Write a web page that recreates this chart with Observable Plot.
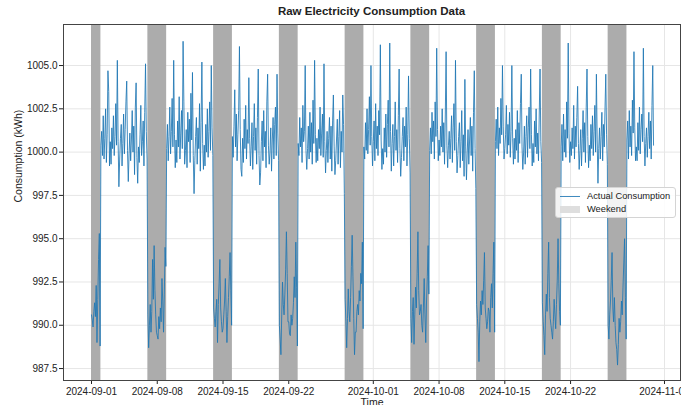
<!DOCTYPE html>
<html>
<head>
<meta charset="utf-8">
<script src="https://cdn.jsdelivr.net/npm/d3@7"></script>
<script src="https://cdn.jsdelivr.net/npm/@observablehq/plot@0.6"></script>
<style>
  html, body { margin: 0; padding: 0; background: #fff; }
  #wrap { position: relative; width: 681px; height: 405px; font-family: "Liberation Sans", Arial, sans-serif; color: #222; overflow: hidden; }
  #title { position: absolute; left: 63px; width: 617px; top: 4px; text-align: center; font-weight: bold; font-size: 11.5px; line-height: 14px; }
  #chart { position: absolute; left: 0; top: 21px; }
  #legend { position: absolute; left: 555px; top: 187px; width: 119px; height: 29px; border: 1px solid #d4d4d4; border-radius: 3px; background: rgba(255,255,255,0.85); font-size: 9.3px; }
  .item { position: absolute; left: 31px; line-height: 12px; white-space: nowrap; }
  .sw-line { position: absolute; left: 4px; width: 20px; height: 0; border-top: 1.2px solid #1f77b4; opacity: 0.85; }
  .sw-rect { position: absolute; left: 4px; width: 20px; height: 7px; background: #dedede; }
</style>
</head>
<body>
<div id="wrap">
  <div id="title">Raw Electricity Consumption Data</div>
  <div id="chart"></div>
  <div id="legend">
    <div class="sw-line" style="top:8px"></div>
    <div class="item" style="top:2px">Actual Consumption</div>
    <div class="sw-rect" style="top:18px"></div>
    <div class="item" style="top:15px">Weekend</div>
  </div>
</div>
<script>
// Two-hourly readings (00h,02h,...,22h) for each day from 2024-09-01 onward
const startDay = "2024-09-01";
const dailyValues = [
  [990.6, 990.3, 989.9, 990.8, 991.3, 990.5, 992.3, 989.0, 991.5, 993.8, 995.3, 988.8], // 09-01 Sun
  [1000.4, 1001.2, 999.8, 1002.1, 999.6, 1000.8, 1002.5, 999.4, 1001.0, 1004.7, 1003.5, 999.2],
  [1000.6, 999.3, 1001.4, 1000.2, 1002.1, 999.8, 1000.9, 1002.8, 1000.4, 1005.3, 1000.6, 998.0],
  [999.6, 1000.8, 1001.6, 999.2, 1000.5, 1002.2, 999.9, 1001.3, 1002.9, 1004.1, 1000.1, 998.3],
  [999.9, 1001.1, 999.5, 1000.7, 1002.4, 1000.0, 1001.5, 998.7, 1002.6, 1004.0, 999.7, 998.2],
  [1000.3, 999.4, 1001.0, 1002.7, 999.8, 1000.6, 1001.8, 999.2, 1002.3, 1005.1, 1001.2, 999.6],
  [990.6, 988.7, 990.0, 991.2, 989.6, 990.8, 993.8, 991.5, 994.6, 992.0, 990.6, 989.6], // 09-07 Sat
  [989.4, 989.2, 990.5, 989.8, 991.0, 990.2, 992.7, 991.4, 989.6, 991.8, 994.5, 993.4],
  [1000.2, 1001.6, 999.5, 1000.9, 1002.6, 999.9, 1001.2, 1003.1, 1000.3, 1005.3, 1001.0, 999.1],
  [1000.7, 999.4, 1001.8, 1000.3, 1003.2, 999.6, 1001.1, 1002.4, 1000.2, 1006.4, 1002.9, 999.3],
  [1000.1, 1001.3, 999.1, 1002.3, 1000.6, 1001.9, 999.4, 1003.4, 1000.7, 1004.6, 999.8, 997.6],
  [999.5, 1000.9, 1002.0, 999.3, 1001.4, 1000.2, 1002.8, 998.9, 1001.7, 1005.2, 1000.5, 999.0],
  [1000.4, 999.2, 1001.6, 1000.0, 1002.5, 999.7, 1001.2, 1002.9, 1000.1, 1005.0, 1001.4, 999.8],
  [991.0, 990.4, 989.9, 990.8, 991.5, 989.0, 991.2, 992.4, 993.8, 991.0, 990.2, 989.6], // 09-14 Sat
  [989.8, 990.6, 991.4, 992.7, 990.8, 989.0, 990.5, 991.6, 992.8, 994.2, 992.0, 990.0],
  [1000.9, 999.7, 1001.5, 1003.6, 1000.3, 1002.2, 999.5, 1001.0, 1002.4, 1006.1, 1001.3, 999.0],
  [998.6, 1000.8, 999.4, 1001.9, 1000.2, 1002.7, 999.6, 1001.3, 1000.5, 1004.3, 1000.8, 999.2],
  [1000.3, 1001.7, 999.0, 1000.9, 1002.8, 1000.1, 1001.4, 999.3, 1002.0, 1004.8, 999.8, 998.1],
  [998.8, 1000.6, 1001.8, 999.5, 1002.4, 1000.3, 1001.2, 999.1, 1002.9, 1004.5, 1000.4, 999.3],
  [1000.0, 1001.4, 998.9, 1000.7, 1002.0, 999.6, 1001.6, 1002.6, 999.8, 1004.5, 1001.1, 999.5],
  [990.0, 989.2, 988.3, 990.6, 992.5, 991.2, 990.6, 991.8, 993.2, 995.4, 993.0, 990.2], // 09-21 Sat
  [990.2, 989.5, 989.4, 990.6, 990.0, 990.4, 991.3, 992.8, 991.6, 994.8, 992.2, 988.8],
  [1000.5, 999.8, 1002.0, 1000.3, 1001.4, 999.4, 1002.7, 1000.6, 1001.2, 1005.0, 1000.1, 999.0],
  [1000.2, 1001.5, 999.6, 1002.3, 1000.0, 1001.7, 999.3, 1003.0, 1000.5, 1005.3, 1001.0, 999.4],
  [1000.8, 999.5, 1001.3, 1000.2, 1002.6, 999.8, 1001.1, 1002.2, 999.7, 1005.1, 1000.6, 998.8],
  [1000.1, 1001.2, 999.4, 1000.8, 1002.0, 999.6, 1001.5, 998.9, 1001.8, 1003.3, 1000.3, 998.7],
  [999.5, 1000.7, 1001.9, 999.3, 1000.9, 1002.4, 999.1, 1001.2, 1000.0, 1003.3, 1001.6, 997.6],
  [991.5, 990.2, 988.7, 990.4, 992.1, 990.8, 990.2, 991.6, 993.4, 995.2, 992.8, 990.4], // 09-28 Sat
  [988.3, 989.6, 989.6, 990.8, 991.2, 990.6, 992.0, 991.4, 993.0, 992.4, 994.8, 989.8],
  [1000.3, 999.6, 1001.7, 1000.1, 1002.5, 999.9, 1001.3, 1003.2, 1000.4, 1005.0, 1000.9, 999.2],
  [1000.6, 1001.8, 999.5, 1002.8, 1000.2, 1001.5, 999.8, 1002.4, 1001.0, 1006.2, 1000.7, 999.0],
  [1000.2, 999.3, 1001.4, 1000.0, 1002.2, 999.7, 1001.6, 1003.0, 1000.3, 1006.3, 1001.2, 998.9],
  [1000.5, 1001.6, 999.2, 1000.9, 1002.9, 1000.1, 1001.3, 999.4, 1002.1, 1004.8, 1000.2, 998.6],
  [999.7, 1000.9, 1002.0, 999.5, 1001.5, 1000.3, 1002.6, 999.2, 1001.0, 1004.4, 1000.8, 998.8],
  [990.4, 989.0, 990.8, 991.6, 988.9, 990.6, 992.2, 991.0, 993.0, 995.4, 992.0, 990.6], // 10-05 Sat
  [990.8, 991.2, 990.0, 989.6, 991.0, 992.7, 990.6, 989.0, 991.4, 992.8, 994.6, 991.8],
  [1000.1, 1001.4, 999.9, 1002.3, 1000.6, 1001.8, 999.6, 1002.9, 1000.9, 1006.0, 1001.3, 999.5],
  [1000.7, 999.8, 1001.5, 1000.3, 1002.5, 1000.0, 1001.7, 999.3, 1002.2, 1005.8, 1000.4, 999.1],
  [1000.4, 1001.2, 999.6, 1000.8, 1002.1, 999.4, 1001.4, 1002.8, 1000.1, 1005.3, 1000.6, 998.8],
  [999.8, 1000.9, 1001.7, 999.1, 1000.6, 1002.4, 999.5, 1001.0, 998.6, 1004.2, 1000.3, 998.4],
  [1000.0, 1001.3, 999.3, 1000.7, 1002.0, 999.8, 1001.5, 998.9, 1002.3, 1004.7, 1000.2, 997.9],
  [991.2, 990.4, 989.6, 987.9, 990.2, 991.4, 990.6, 992.0, 991.2, 992.6, 994.2, 991.0], // 10-12 Sat
  [990.4, 989.8, 990.2, 991.0, 990.8, 989.6, 991.6, 992.4, 991.0, 993.0, 994.8, 989.6],
  [1000.6, 1001.9, 1000.2, 1002.6, 999.8, 1001.4, 1000.5, 1003.1, 1001.0, 1005.0, 1001.5, 999.6],
  [1000.2, 1001.0, 1002.7, 999.9, 1001.6, 1000.4, 1002.3, 999.7, 1001.2, 1005.0, 1000.8, 999.3],
  [1000.8, 999.6, 1001.3, 1000.1, 1002.4, 999.4, 1001.7, 1000.5, 1002.8, 1004.5, 1000.3, 999.0],
  [1000.0, 1001.5, 999.3, 1000.9, 1002.1, 999.7, 1001.4, 1002.6, 1000.2, 1004.8, 1001.0, 999.2],
  [1000.5, 999.4, 1001.8, 1000.3, 1002.5, 999.9, 1001.1, 999.5, 1002.2, 1004.8, 1000.6, 999.4],
  [991.3, 990.2, 989.4, 988.3, 990.6, 991.8, 990.8, 993.0, 994.8, 991.6, 990.4, 990.0], // 10-19 Sat
  [989.6, 989.2, 990.2, 991.5, 990.6, 989.8, 991.2, 992.6, 995.0, 992.4, 990.8, 990.0],
  [1000.3, 1001.6, 999.5, 1002.2, 1000.0, 1001.3, 999.7, 1002.9, 1000.8, 1006.3, 1001.1, 999.4],
  [1000.6, 999.8, 1001.4, 1000.2, 1002.7, 999.6, 1001.5, 1000.3, 1002.0, 1003.8, 1000.5, 999.0],
  [1000.1, 1001.3, 999.2, 1000.8, 1002.4, 1000.0, 1001.7, 999.4, 1002.6, 1004.8, 1000.9, 999.1],
  [1000.4, 999.5, 1001.6, 1000.2, 1002.1, 999.8, 1001.2, 1002.7, 1000.0, 1004.5, 1000.7, 998.2],
  [1000.2, 1001.4, 999.6, 1000.9, 1002.3, 999.5, 1001.6, 1000.3, 1002.5, 1004.5, 1001.0, 999.3],
  [990.0, 989.2, 990.6, 991.4, 992.6, 994.2, 991.0, 990.2, 991.6, 990.0, 989.0, 988.6], // 10-26 Sat
  [987.7, 988.9, 990.4, 989.6, 990.2, 991.4, 990.6, 992.2, 993.6, 995.0, 991.6, 989.2],
  [1000.7, 1001.8, 999.6, 1002.4, 1000.3, 1001.5, 999.8, 1003.0, 1001.1, 1005.8, 1001.4, 999.5],
  [1000.3, 999.5, 1001.7, 1000.1, 1002.6, 999.9, 1001.3, 1002.2, 1000.6, 1006.0, 1000.9, 999.2],
  [1000.5, 1001.4, 999.7, 1000.9, 1002.3, 1000.2, 1001.8, 999.6, 1002.7, 1005.0, 1000.4]
];

const weekendStarts = ["2024-09-01", "2024-09-07", "2024-09-14", "2024-09-21", "2024-09-28", "2024-10-05", "2024-10-12", "2024-10-19", "2024-10-26"];
const weekendEnds   = ["2024-09-02", "2024-09-09", "2024-09-16", "2024-09-23", "2024-09-30", "2024-10-07", "2024-10-14", "2024-10-21", "2024-10-28"];

const xTickLabels = ["2024-09-01", "2024-09-08", "2024-09-15", "2024-09-22", "2024-10-01", "2024-10-08", "2024-10-15", "2024-10-22", "2024-11-01"];
const yTicks = [987.5, 990.0, 992.5, 995.0, 997.5, 1000.0, 1002.5, 1005.0];

const t0 = new Date(startDay + "T00:00:00Z").getTime();
const readings = dailyValues.flatMap((vals, d) =>
  vals.map((v, i) => ({ time: new Date(t0 + (d * 24 + i * 2) * 3600e3), value: v }))
);
const weekends = weekendStarts.map((s, i) => ({ start: new Date(s + "T00:00:00Z"), end: new Date(weekendEnds[i] + "T00:00:00Z") }));
const xTicks = xTickLabels.map(s => new Date(s + "T00:00:00Z"));

const chart = Plot.plot({
  width: 681,
  height: 384,
  marginTop: 3,
  marginBottom: 25,
  marginLeft: 63,
  marginRight: 1,
  style: { fontFamily: "Liberation Sans, Arial, sans-serif", fontSize: "10px", color: "#222", background: "transparent" },
  x: { type: "utc", domain: [new Date("2024-08-29T00:27:00Z"), new Date("2024-11-02T16:53:00Z")] },
  y: { domain: [986.81, 1007.37] },
  marks: [
    Plot.gridX(xTicks, { stroke: "#e6e6e6", strokeOpacity: 1 }),
    Plot.gridY(yTicks, { stroke: "#e6e6e6", strokeOpacity: 1 }),
    Plot.rect(weekends, { x1: "start", x2: "end", fill: "#acacac" }),
    Plot.line(readings, { x: "time", y: "value", stroke: "#1f77b4", strokeWidth: 1, strokeOpacity: 0.85 }),
    Plot.axisX({ ticks: xTicks, tickFormat: d3.utcFormat("%Y-%m-%d"), tickSize: 4, tickPadding: 3, label: null }),
    Plot.axisY({ ticks: yTicks, tickFormat: d => d.toFixed(1), tickSize: 4, tickPadding: 2, label: null }),
    Plot.frame({ stroke: "#444", strokeWidth: 1 }),
    Plot.text(["Consumption (kWh)"], { frameAnchor: "left", dx: -45, rotate: -90, fontSize: 10.5, fill: "#222" }),
    Plot.text(["Time"], { frameAnchor: "bottom", dy: 25.5, fontSize: 10.5, fill: "#222" })
  ]
});
document.getElementById("chart").appendChild(chart);
</script>
</body>
</html>
